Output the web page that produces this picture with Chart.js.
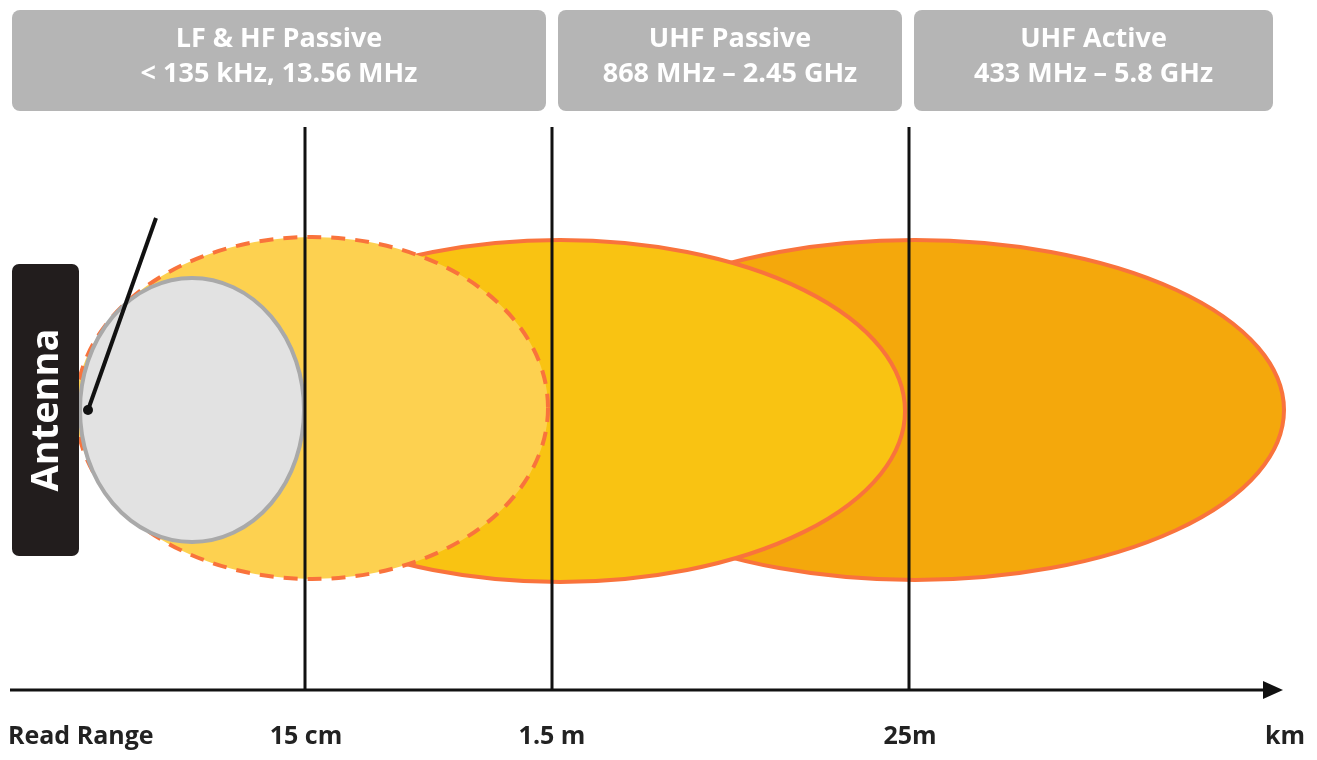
<!DOCTYPE html>
<html><head><meta charset="utf-8">
<script src="https://cdn.jsdelivr.net/npm/chart.js@4/dist/chart.umd.min.js"></script>
<style>html,body{margin:0;padding:0;background:#fff;overflow:hidden}#w{width:1317px;height:760px}</style>
</head><body><div id="w"><canvas id="c"></canvas></div>
<script>
// categories (header boxes)
const bandNames = ["LF & HF Passive","UHF Passive","UHF Active"];
const bandFreqs = ["< 135 kHz, 13.56 MHz","868 MHz – 2.45 GHz","433 MHz – 5.8 GHz"];
const bandStart = [12, 558, 914];
const bandEnd = [546, 902, 1273];
// read range boundaries (vertical lines)
const rangeLines = [305, 552, 909];
// tick labels
const tickLabels = ["Read Range","15 cm","1.5 m","25m","km"];
const tickPos = [95, 306, 552, 910, 1273];
// field ellipses: centre x, half-width, centre y, half-height
const fieldCx = [915, 560, 312, 192];
const fieldRx = [369, 345, 236, 112];
const fieldCy = [410, 411, 408, 410];
const fieldRy = [170, 171, 171, 132];
const fieldFill = ["#f4a80c", "#f9c312", "#fdd150", "#e2e2e2"];
const fieldStroke = ["#f9733c", "#f9733c", "#f9733c", "#a9a9a9"];
const fieldDash = [[], [], [14,10], []];

const lineSets = rangeLines.map(x => ({data:[{x:x,y:127},{x:x,y:690}], showLine:true, borderColor:"#111", borderWidth:3, pointRadius:0, order:0}));
lineSets.push({data:[{x:10,y:690},{x:1268,y:690}], showLine:true, borderColor:"#111", borderWidth:3, pointRadius:0});

const deco = {
  id:"deco",
  beforeDatasetsDraw(ch){
    const c=ch.ctx, X=ch.scales.x, Y=ch.scales.y;
    c.save();
    for(let i=0;i<fieldCx.length;i++){
      const cx=X.getPixelForValue(fieldCx[i]), cy=Y.getPixelForValue(fieldCy[i]);
      const rx=X.getPixelForValue(fieldCx[i]+fieldRx[i])-cx, ry=Math.abs(Y.getPixelForValue(fieldCy[i]+fieldRy[i])-cy);
      c.beginPath(); c.ellipse(cx,cy,rx,ry,0,0,Math.PI*2);
      c.fillStyle=fieldFill[i]; c.fill();
      c.setLineDash(fieldDash[i]); c.lineWidth=4; c.strokeStyle=fieldStroke[i]; c.stroke();
    }
    c.setLineDash([]);
    // header boxes
    c.font="bold 27px 'Open Sans'"; c.textAlign="center"; c.textBaseline="middle";
    for(let i=0;i<bandNames.length;i++){
      const x0=X.getPixelForValue(bandStart[i]), x1=X.getPixelForValue(bandEnd[i]);
      const y0=Y.getPixelForValue(10), y1=Y.getPixelForValue(111);
      c.fillStyle="#b5b5b5"; c.beginPath(); c.roundRect(x0,y0,x1-x0,y1-y0,8); c.fill();
      c.fillStyle="#fff";
      c.fillText(bandNames[i],(x0+x1)/2,y0+29);
      c.fillText(bandFreqs[i],(x0+x1)/2,y0+64);
    }
    c.restore();
  },
  afterDatasetsDraw(ch){
    const c=ch.ctx, X=ch.scales.x, Y=ch.scales.y;
    c.save();
    // arrow head
    const ax=X.getPixelForValue(1283), ay=Y.getPixelForValue(690);
    c.fillStyle="#111"; c.beginPath(); c.moveTo(ax,ay); c.lineTo(ax-20,ay-9); c.lineTo(ax-20,ay+9); c.closePath(); c.fill();
    // antenna
    c.fillStyle="#221d1d"; c.beginPath(); c.roundRect(X.getPixelForValue(12),Y.getPixelForValue(264),67,292,7); c.fill();
    c.translate(X.getPixelForValue(45),Y.getPixelForValue(410)); c.rotate(-Math.PI/2);
    c.fillStyle="#fff"; c.font="bold 38px 'Open Sans'"; c.textAlign="center"; c.textBaseline="middle";
    c.fillText("Antenna",0,2);
    c.setTransform(1,0,0,1,0,0); c.scale(ch.currentDevicePixelRatio,ch.currentDevicePixelRatio);
    c.strokeStyle="#111"; c.lineWidth=4; c.beginPath();
    c.moveTo(X.getPixelForValue(156),Y.getPixelForValue(218)); c.lineTo(X.getPixelForValue(88),Y.getPixelForValue(410)); c.stroke();
    c.fillStyle="#111"; c.beginPath(); c.arc(X.getPixelForValue(88),Y.getPixelForValue(410),5,0,Math.PI*2); c.fill();
    // tick labels
    c.font="bold 25px 'Open Sans'"; c.fillStyle="#222"; c.textBaseline="middle";
    tickLabels.forEach((t,i)=>{ c.textAlign = i===0?"left":"center"; c.fillText(t, X.getPixelForValue(i===0?8:tickPos[i]+(i===4?12:0)), Y.getPixelForValue(737)); });
    c.restore();
  }
};

new Chart(document.getElementById("c"),{
  type:"scatter",
  data:{datasets:lineSets},
  options:{responsive:true,maintainAspectRatio:false,animation:false,
    layout:{padding:0},
    plugins:{legend:{display:false},tooltip:{enabled:false}},
    scales:{x:{type:"linear",min:0,max:1317,display:false},y:{type:"linear",min:0,max:760,reverse:true,display:false}}},
  plugins:[deco]
});
</script></body></html>
